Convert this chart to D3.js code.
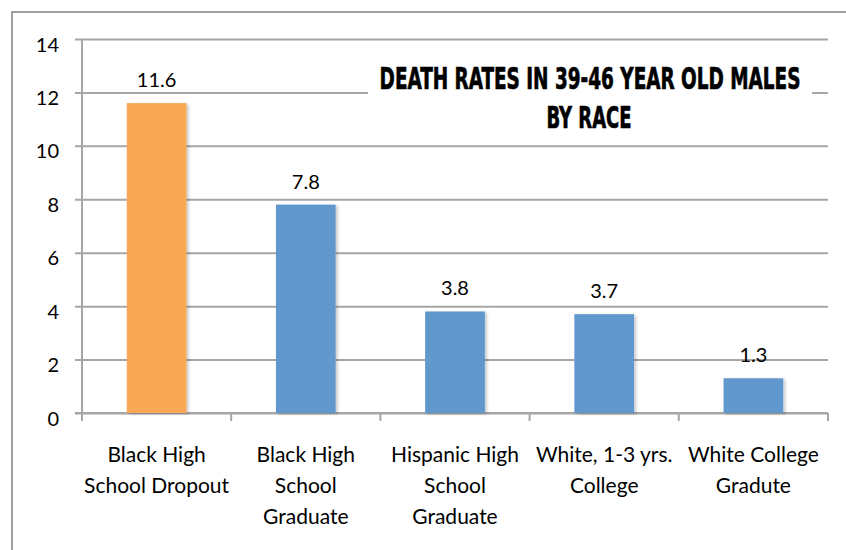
<!DOCTYPE html>
<html>
<head>
<meta charset="utf-8">
<script src="https://cdn.jsdelivr.net/npm/d3@7/dist/d3.min.js"></script>
<style>
  html, body { margin: 0; padding: 0; background: #ffffff; }
  svg { display: block; }
</style>
</head>
<body>
<svg id="chart" width="846" height="550"></svg>
<script>
// Data
const categories = [
  ["Black High", "School Dropout"],
  ["Black High", "School", "Graduate"],
  ["Hispanic High", "School", "Graduate"],
  ["White, 1-3 yrs.", "College"],
  ["White College", "Gradute"]
];
const values = [11.6, 7.8, 3.8, 3.7, 1.3];
const barColors = ["#F9A857", "#6197CD", "#6197CD", "#6197CD", "#6197CD"];
const yTicks = [0, 2, 4, 6, 8, 10, 12, 14];
const titleLines = ["DEATH RATES IN 39-46 YEAR OLD MALES", "BY RACE"];

const svg = d3.select("#chart");
const W = 846, H = 550;
const plot = { left: 82, right: 828, top: 39, bottom: 413 };
const gridColor = "#A6A6A6";
const labelFont = "Lato, 'Open Sans', sans-serif";

// Drop shadow for bars
const defs = svg.append("defs");
const shadow = defs.append("filter").attr("id", "barShadow")
  .attr("x", "-20%").attr("y", "-20%").attr("width", "150%").attr("height", "150%");
shadow.append("feDropShadow")
  .attr("dx", 2).attr("dy", 1).attr("stdDeviation", 1.6)
  .attr("flood-color", "#000").attr("flood-opacity", 0.22);

// Outer chart frame (extends past the window on right and bottom)
svg.append("rect")
  .attr("x", 12).attr("y", 12)
  .attr("width", W + 20).attr("height", H + 20)
  .attr("fill", "#fff").attr("stroke", "#A0A0A0").attr("stroke-width", 2);

// Scales
const idx = d3.range(values.length);
const x = d3.scaleBand().domain(idx).range([plot.left, plot.right])
  .paddingInner(0.6).paddingOuter(0.3);
const y = d3.scaleLinear().domain([0, 14]).range([plot.bottom, plot.top]);

// Horizontal gridlines with left tick marks
const yAxis = d3.axisLeft(y).tickValues(yTicks)
  .tickSize(-(plot.right - plot.left)).tickSizeOuter(0).tickPadding(23);
const gy = svg.append("g").attr("transform", `translate(${plot.left},0)`).call(yAxis);
gy.select(".domain").remove();
gy.selectAll(".tick line")
  .attr("x1", -7).attr("stroke", gridColor).attr("stroke-width", 2);
gy.selectAll(".tick text")
  .attr("font-family", labelFont).attr("font-size", 20)
  .attr("fill", "#000").attr("dy", "0.6em");

// Vertical value axis line
svg.append("line")
  .attr("x1", plot.left).attr("x2", plot.left)
  .attr("y1", plot.top).attr("y2", plot.bottom)
  .attr("stroke", gridColor).attr("stroke-width", 2);

// Category axis with ticks at band boundaries
const step = x.step();
const boundaries = d3.range(values.length + 1).map(i => plot.left + i * step);
svg.append("line")
  .attr("x1", plot.left - 7).attr("x2", plot.right)
  .attr("y1", plot.bottom).attr("y2", plot.bottom)
  .attr("stroke", gridColor).attr("stroke-width", 2);
svg.append("g").selectAll("line").data(boundaries).join("line")
  .attr("x1", d => d).attr("x2", d => d)
  .attr("y1", plot.bottom).attr("y2", plot.bottom + 8)
  .attr("stroke", gridColor).attr("stroke-width", 2);

// Title block with white backing over the gridline
svg.append("rect")
  .attr("x", 368).attr("y", 52).attr("width", 444).attr("height", 86)
  .attr("fill", "#fff");
const title = svg.append("g")
  .attr("font-family", "'Liberation Sans Narrow', 'DejaVu Sans Condensed', 'Liberation Sans', sans-serif")
  .attr("font-weight", "bold").attr("font-size", 31)
  .attr("text-anchor", "middle").attr("fill", "#000")
  .attr("stroke", "#000").attr("stroke-width", 0.7);
// Each title line is squeezed horizontally to a condensed width
const titleSpecs = [
  { text: titleLines[0], cx: 590, y: 89, width: 421 },
  { text: titleLines[1], cx: 589, y: 128, width: 85 }
];
titleSpecs.forEach(s => {
  const t = title.append("text").attr("x", 0).attr("y", 0).text(s.text);
  const natural = t.node().getComputedTextLength();
  const k = s.width / natural;
  t.attr("transform", `translate(${s.cx},${s.y}) scale(${k},1)`);
});

// Bars
svg.append("g").selectAll("rect").data(idx).join("rect")
  .attr("x", i => x(i))
  .attr("y", i => y(values[i]))
  .attr("width", x.bandwidth())
  .attr("height", i => y(0) - y(values[i]))
  .attr("fill", i => barColors[i])
  .attr("filter", "url(#barShadow)");

// Value labels
svg.append("g").selectAll("text").data(idx).join("text")
  .attr("x", i => x(i) + x.bandwidth() / 2)
  .attr("y", i => y(values[i]) - 16)
  .attr("text-anchor", "middle")
  .attr("font-family", labelFont).attr("font-size", 20)
  .attr("fill", "#000")
  .text(i => values[i]);

// Category labels (multi-line)
const cat = svg.append("g").selectAll("text").data(idx).join("text")
  .attr("x", i => x(i) + x.bandwidth() / 2)
  .attr("text-anchor", "middle")
  .attr("font-family", labelFont).attr("font-size", 21)
  .attr("fill", "#000");
cat.selectAll("tspan").data(i => categories[i].map(t => ({ t, i })))
  .join("tspan")
  .attr("x", d => x(d.i) + x.bandwidth() / 2)
  .attr("y", (d, k) => 462 + k * 31)
  .text(d => d.t);
</script>
</body>
</html>
